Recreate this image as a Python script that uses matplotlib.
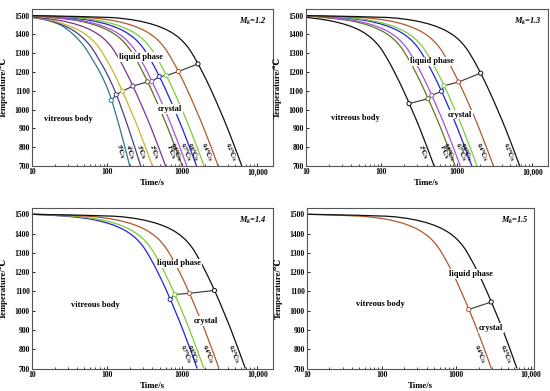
import numpy as np
import matplotlib
matplotlib.use('Agg')
import matplotlib.pyplot as plt
from matplotlib.path import Path
from matplotlib.patches import PathPatch
from matplotlib.ticker import FixedLocator, FixedFormatter, LogLocator, NullFormatter

plt.rcParams['font.family'] = ['Liberation Serif', 'DejaVu Serif']
plt.rcParams['font.weight'] = 'bold'
plt.rcParams['mathtext.fontset'] = 'custom'
plt.rcParams['mathtext.it'] = 'Liberation Serif:italic:bold'
plt.rcParams['mathtext.rm'] = 'Liberation Serif:bold'

# temperature levels (C) and the time (s) each cooling curve reaches them
levels = [1500, 1490, 1475, 1450, 1420, 1380, 1330, 1270, 1200, 1100, 900, 700]

# Mk = 1.2
mk12_rates = ['5', '4', '3', '2', '1', '0.8', '0.7', '0.6', '0.4', '0.2']
mk12_colors = ['#2b7c8c', '#4a3d8f', '#c9b52a', '#7a3596', '#5c6e1f',
               '#a94fe3', '#2222dd', '#7ccc3a', '#b3582c', '#111111']
mk12_times = [
    [5, 10, 16, 24, 31, 40, 51, 63, 80, 104, 148, 200],
    [5.5, 10.5, 16.5, 25.5, 35.8, 48.2, 62.2, 77, 96.9, 126.8, 193, 280],
    [6, 11, 18, 29, 43, 60, 78, 97, 121, 159, 260, 400],
    [6.5, 11.5, 22.8, 41.4, 63, 88.8, 116, 144, 179, 236, 388, 600],
    [10, 17.8, 38, 69, 105, 148, 193, 240, 298.5, 394, 646, 1000],
    [10, 20.5, 43.7, 79.4, 120.8, 170.2, 222, 276, 343, 453, 743, 1150],
    [10, 27.6, 58.9, 107, 162.8, 229.4, 299, 372, 463, 611, 1001, 1550],
    [10, 34.7, 74.1, 134.6, 204.8, 288.6, 376, 468, 582, 768, 1260, 1950],
    [10, 53.4, 114, 207, 315, 444, 579, 720, 896, 1182, 1938, 3000],
    [10, 110, 236, 428, 651, 918, 1197, 1488, 1851, 2443, 4005, 6200],
]
mk12_boundary = [1049, 1079, 1098, 1125, 1148, 1150, 1176, 1181, 1203, 1243]

# Mk = 1.3
mk13_rates = ['2', '1', '0.8', '0.7', '0.6', '0.4', '0.2']
mk13_colors = ['#111111', '#5c7a1f', '#a94fe3', '#2222dd', '#7ccc3a', '#b3582c', '#111111']
mk13_times = [
    [6, 10.5, 19.5, 35, 53, 74, 96.5, 120, 149, 197, 323, 500],
    [10, 16.9, 36.1, 65.6, 99.8, 140.6, 183.4, 228, 283.6, 374.3, 613.7, 950],
    [10, 19.8, 42.2, 76.6, 116.6, 164.3, 214.2, 266.4, 331.3, 437.3, 717, 1110],
    [10, 28.1, 60, 109, 165.9, 233.8, 305, 379, 471.6, 622.5, 1020.7, 1580],
    [10, 32.9, 70.3, 127.7, 194.3, 273.8, 357, 444, 552, 729, 1195, 1850],
    [10, 54.3, 115.9, 210.5, 320, 451, 589, 732, 910, 1202, 1970, 3050],
    [10, 121, 258, 469, 714, 1006, 1312, 1632, 2030, 2679, 4393, 6800],
]
mk13_boundary = [1032, 1058, 1076, 1097, 1127, 1147, 1194]

# Mk = 1.4
mk14_rates = ['0.7', '0.6', '0.4', '0.2']
mk14_colors = ['#2222dd', '#7ccc3a', '#b3582c', '#111111']
mk14_times = [
    [10, 28.1, 60, 109, 165.9, 233.8, 305, 379, 471.6, 622.5, 1020.7, 1580],
    [10, 34.5, 73.7, 133.9, 203.7, 287.1, 374.4, 465.6, 579, 764, 1253, 1940],
    [10, 54.8, 117, 212.5, 323.4, 455.8, 594.4, 739, 919, 1213.5, 1990, 3080],
    [10, 122.8, 262.2, 476, 724.5, 1021, 1332, 1656, 2060, 2719, 4457, 6900],
]
mk14_boundary = [1058, 1084, 1090, 1105]

# Mk = 1.5
mk15_rates = ['0.4', '0.2']
mk15_colors = ['#b3582c', '#111111']
mk15_times = [
    [10, 52.5, 112.1, 203.6, 309.8, 436.6, 569.4, 708, 880.6, 1162, 1906, 2950],
    [10, 115.7, 247, 448.5, 682.5, 962, 1254.5, 1560, 1940, 2561, 4199, 6500],
]
mk15_boundary = [1006, 1045]

# region names (text, time, temperature)
mk12_regions = [('liquid phase', 280, 1280), ('crystal', 690, 1004), ('vitreous body', 31, 950)]
mk13_regions = [('liquid phase', 464, 1256), ('crystal', 1100, 974), ('vitreous body', 46, 956)]
mk14_regions = [('liquid phase', 910, 1245), ('crystal', 2040, 948), ('vitreous body', 70, 1027)]
mk15_regions = [('liquid phase', 1585, 1190), ('crystal', 2950, 910), ('vitreous body', 95, 1036)]

panels = [
    ('1.2', mk12_rates, mk12_colors, mk12_times, mk12_boundary, mk12_regions, 16000,
     [0.058, 0.5754, 0.438, 0.4015]),
    ('1.3', mk13_rates, mk13_colors, mk13_times, mk13_boundary, mk13_regions, 16000,
     [0.556, 0.5754, 0.44, 0.4015]),
    ('1.4', mk14_rates, mk14_colors, mk14_times, mk14_boundary, mk14_regions, 16000,
     [0.058, 0.0575, 0.438, 0.4118]),
    ('1.5', mk15_rates, mk15_colors, mk15_times, mk15_boundary, mk15_regions, 11000,
     [0.558, 0.0575, 0.413, 0.4118]),
]

lev_up = np.array(levels[::-1], dtype=float)


def cross_time(times, temp):
    lt = np.log10(np.array(times, dtype=float))[::-1]
    return 10 ** np.interp(temp, lev_up, lt)


def smooth_curve(times):
    # monotone cubic (bezier) through the read points, log(time) as a function of T
    T = lev_up
    x = np.log10(np.array(times, dtype=float))[::-1]
    h = np.diff(T)
    dl = np.diff(x) / h
    d = np.empty_like(x)
    d[0], d[-1] = dl[0], dl[-1]
    for k in range(1, len(x) - 1):
        if dl[k - 1] * dl[k] <= 0:
            d[k] = 0.0
        else:
            w1 = 2 * h[k] + h[k - 1]
            w2 = h[k] + 2 * h[k - 1]
            d[k] = (w1 + w2) / (w1 / dl[k - 1] + w2 / dl[k])
    verts = [(x[0], T[0])]
    codes = [Path.MOVETO]
    for k in range(len(x) - 1):
        verts.append((x[k] + d[k] * h[k] / 3, T[k] + h[k] / 3))
        verts.append((x[k + 1] - d[k + 1] * h[k] / 3, T[k + 1] - h[k] / 3))
        verts.append((x[k + 1], T[k + 1]))
        codes += [Path.CURVE4] * 3
    return Path([(10 ** vx, vy) for vx, vy in verts], codes)


fig = plt.figure(figsize=(5.5, 3.91), dpi=100)
W, H = 550, 391

for mk, rates, colors, times, boundary, regions, xmax, rect in panels:
    ax = fig.add_axes(rect)
    ax.set_xscale('log')
    ax.set_xlim(10, xmax)
    ax.set_ylim(700, 1535)

    for rate, c, t in zip(rates, colors, times):
        ax.add_patch(PathPatch(smooth_curve(t), facecolor='none', edgecolor=c, lw=0.9, zorder=2))

    # liquid / crystal boundary through the curves
    bt = [cross_time(t, b) for t, b in zip(times, boundary)]
    ax.plot(bt, boundary, color='#333333', lw=0.8, zorder=4)
    ax.scatter(bt, boundary, s=9, facecolor='white', edgecolor=colors, linewidth=0.7, zorder=5)

    # cooling rate labels along the lower end of each curve
    for rate, c, t in zip(rates, colors, times):
        p1 = ax.transData.transform((cross_time(t, 900), 900))
        p2 = ax.transData.transform((cross_time(t, 700), 700))
        ang = np.degrees(np.arctan2(p2[1] - p1[1], p2[0] - p1[0]))
        tl = cross_time(t, 775)
        ax.annotate(rate + '℃/s', xy=(tl, 775), xytext=(-4.5, 0), textcoords='offset points',
                    rotation=ang, ha='center', va='center', fontsize=4.3,
                    rotation_mode='anchor', zorder=6)

    for txt, tx, ty in regions:
        if txt == 'vitreous body':
            ax.text(tx, ty, txt, fontsize=6, ha='center', va='center', zorder=6)
        else:
            ax.text(tx, ty, txt, fontsize=6, ha='center', va='center', zorder=6,
                    bbox=dict(facecolor='white', edgecolor='none', pad=0.6))

    ax.text(0.975, 0.955, '$M_k$=' + mk, transform=ax.transAxes, ha='right', va='top',
            fontsize=6, fontstyle='italic')

    ax.xaxis.set_major_locator(FixedLocator([10, 100, 1000, 10000]))
    ax.xaxis.set_major_formatter(FixedFormatter(['10', '100', '1000', '10,000']))
    ax.xaxis.set_minor_locator(LogLocator(base=10, subs=np.arange(2, 10)))
    ax.xaxis.set_minor_formatter(NullFormatter())
    ax.set_yticks(np.arange(700, 1501, 100))
    ax.tick_params(axis='both', which='major', direction='in', length=2.5, width=0.6,
                   labelsize=5.5, pad=1.5)
    ax.tick_params(axis='both', which='minor', direction='in', length=1.5, width=0.5)
    for lab in ax.get_xticklabels() + ax.get_yticklabels():
        lab.set_fontweight('bold')
    for sp in ax.spines.values():
        sp.set_color('#555555')
        sp.set_linewidth(0.8)

    wpx = rect[2] * W
    hpx = rect[3] * H
    ax.set_ylabel('Temperature/℃', fontsize=6.3, fontweight='bold')
    ax.set_xlabel('Time/s', fontsize=6.3, fontweight='bold')
    ax.yaxis.set_label_coords(-24 / wpx, 0.5)
    ax.xaxis.set_label_coords(0.5, -13 / hpx)

fig.savefig('out.png', dpi=100)
